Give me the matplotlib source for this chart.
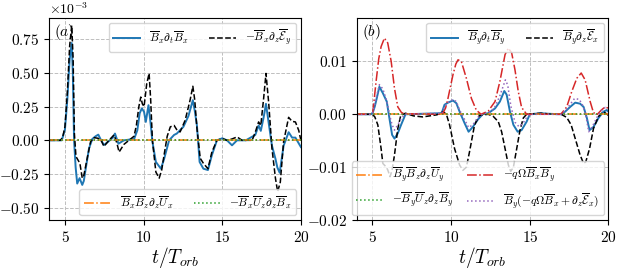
import matplotlib
matplotlib.use("Agg")
import matplotlib.pyplot as plt

plt.rcParams['font.family'] = 'serif'
plt.rcParams['font.serif'] = ['cmr10']
plt.rcParams['mathtext.fontset'] = 'cm'
plt.rcParams['axes.formatter.use_mathtext'] = True

# ---- panel (a), values in units of 1e-3 ----
ta_black = [4.0, 4.7, 4.85, 5.0, 5.15, 5.3, 5.43, 5.52, 5.6, 5.7, 5.85, 5.95, 6.1, 6.2,
            6.42, 6.63, 6.85, 7.1, 7.3, 7.48, 7.8, 8.12, 8.3, 8.44, 8.75, 9.07, 9.39,
            9.54, 9.7, 9.82, 9.92, 10.03, 10.2, 10.35, 10.45, 10.56, 10.78, 10.99,
            11.15, 11.3, 11.5, 11.7, 11.94, 12.1, 12.32, 12.64, 12.96, 13.13, 13.25,
            13.39, 13.6, 13.8, 14.09, 14.34, 14.66, 15.0, 15.3, 15.62, 15.94, 16.26,
            16.9, 17.1, 17.31, 17.45, 17.63, 17.78, 17.95, 18.16, 18.38, 18.52, 18.69,
            18.9, 19.22, 19.44, 19.65, 19.86, 20.0]
ya_black = [0, 0.0, 0.02, 0.1, 0.35, 0.7, 0.85, 0.6, 0.05, -0.12, -0.15, -0.17, -0.28,
            -0.26, -0.13, -0.01, 0.02, 0.015, 0.0, -0.045, 0.0, 0.04, -0.02, -0.087,
            -0.03, 0.0, 0.03, 0.11, 0.25, 0.32, 0.27, 0.25, 0.42, 0.495, 0.3, 0.0,
            -0.235, -0.28, -0.22, -0.11, 0.03, 0.10, 0.11, 0.08, 0.062, 0.148, 0.30,
            0.40, 0.3, 0.09, -0.133, -0.17, -0.21, -0.087, 0.0, 0.012, 0.0, 0.01,
            0.025, 0.0, 0.0, 0.06, 0.136, 0.11, 0.31, 0.495, 0.28, -0.06, -0.28,
            -0.38, -0.31, -0.01, 0.17, 0.14, 0.136, 0.074, 0.0]

ta_blue = [4.0, 4.8, 5.0, 5.15, 5.3, 5.43, 5.5, 5.58, 5.68, 5.78, 5.93, 6.1, 6.2, 6.32,
           6.53, 6.74, 6.95, 7.12, 7.3, 7.48, 7.85, 8.05, 8.18, 8.4, 8.75, 9.4, 9.6,
           9.75, 9.89, 10.03, 10.14, 10.31, 10.45, 10.56, 10.78, 11.1, 11.3, 11.62,
           11.94, 12.11, 12.53, 12.85, 13.13, 13.25, 13.39, 13.56, 13.8, 14.09, 14.34,
           14.66, 15.0, 15.3, 15.62, 15.94, 16.5, 17.1, 17.31, 17.45, 17.63, 17.78,
           17.95, 18.16, 18.38, 18.5, 18.65, 18.9, 19.22, 19.44, 19.65, 19.85, 20.0]
ya_blue = [0, 0.0, 0.08, 0.3, 0.6, 0.72, 0.5, 0.0, -0.2, -0.32, -0.28, -0.33, -0.3,
           -0.21, -0.06, 0.01, 0.03, 0.042, 0.0, -0.035, 0.0, 0.02, 0.05, -0.025, 0.0,
           0.01, 0.074, 0.2, 0.237, 0.21, 0.136, 0.26, 0.12, -0.01, -0.16, -0.21,
           -0.14, 0.0, 0.04, 0.05, 0.10, 0.18, 0.297, 0.22, 0.11, -0.16, -0.21, -0.22,
           -0.11, 0.0, 0.015, 0.0, -0.037, 0.0, 0.0, 0.04, 0.11, 0.07, 0.17, 0.27,
           0.13, -0.04, -0.136, -0.2, -0.24, -0.04, 0.06, 0.02, 0.02, -0.02, -0.05]

t_flat = [4.0, 8.0, 12.0, 16.0, 20.0]
y_flat = [0.0, 0.0, 0.0, 0.0, 0.0]

# ---- panel (b) ----
tb_red = [4, 4.9, 5.02, 5.23, 5.4, 5.55, 5.76, 5.97, 6.19, 6.4, 6.61, 6.85, 7.1, 9.3,
          9.48, 9.65, 9.8, 10.12, 10.3, 10.44, 10.65, 10.97, 11.29, 11.6, 11.9, 12.36,
          12.79, 13.1, 13.43, 13.64, 13.85, 14.06, 14.27, 14.48, 14.8, 16.9, 17.03,
          17.35, 17.67, 17.99, 18.27, 18.52, 18.84, 19.05, 19.3, 19.55, 19.75, 20]
yb_red = [0, 0, 0.0003, 0.0062, 0.0105, 0.0128, 0.0144, 0.0135, 0.0100, 0.0049,
          0.0014, 0.0003, 0.0001, 0.0, 0.0002, 0.0012, 0.003, 0.0075, 0.0095, 0.0103,
          0.0100, 0.0068, 0.003, 0.0008, 0.0, 0.0006, 0.0024, 0.0062, 0.0113, 0.0125,
          0.0116, 0.0084, 0.0043, 0.0013, 0.0, 0.0, 0.0002, 0.0014, 0.0043, 0.0068,
          0.0078, 0.0065, 0.0024, 0.0003, 0.0, 0.0008, 0.0013, 0.0012]

tb_black = [4, 5.0, 5.15, 5.34, 5.55, 5.66, 5.85, 5.97, 6.12, 6.25, 6.4, 6.61, 6.8, 7.1,
            7.6, 8.2, 9.1, 9.48, 9.7, 9.9, 10.22, 10.54, 10.75, 10.97, 11.17, 11.49,
            11.8, 12.36, 12.68, 13.0, 13.21, 13.43, 13.64, 13.79, 13.96, 14.17, 14.38,
            14.59, 14.8, 15.7, 16.45, 17.0, 17.35, 17.63, 17.89, 18.2, 18.42, 18.56,
            18.8, 19.05, 19.37, 19.69, 20]
yb_black = [0, 0, -0.0005, -0.002, -0.0065, -0.0093, -0.0099, -0.0105, -0.0118,
            -0.0105, -0.0077, -0.0027, -0.0002, 0.0002, -0.0003, -0.0005, -0.0001,
            0.0005, 0.0, -0.002, -0.0065, -0.0096, -0.0106, -0.0100, -0.0071, -0.002,
            -0.0002, 0.0, -0.0004, -0.0014, -0.0033, -0.0065, -0.0096, -0.0108,
            -0.0100, -0.0065, -0.003, -0.0007, 0.0, 0.0002, 0.0, 0.0, -0.0006, -0.002,
            -0.0046, -0.0077, -0.0093, -0.009, -0.0065, -0.0027, -0.0004, 0.0005,
            -0.0002]

tb_blue = [4, 4.9, 5.02, 5.15, 5.27, 5.44, 5.66, 5.91, 6.08, 6.25, 6.4, 6.61, 6.82, 7.1,
           9.4, 9.58, 9.8, 10.12, 10.33, 10.54, 10.86, 11.11, 11.38, 11.7, 12.0, 12.36,
           12.79, 13.1, 13.38, 13.53, 13.74, 13.96, 14.23, 14.48, 14.8, 15.0, 15.7,
           16.15, 17.0, 17.25, 17.57, 17.89, 18.2, 18.42, 18.63, 18.8, 19.05, 19.37,
           19.69, 19.9, 20]
yb_blue = [0, 0, 0.0003, 0.0015, 0.003, 0.0052, 0.004, 0.0024, -0.0008, -0.0039,
           -0.0046, -0.0036, -0.002, 0.0, 0.0002, 0.0018, 0.0022, 0.0026, 0.0021,
           0.0005, -0.0017, -0.0033, -0.0024, -0.001, 0.0, 0.0002, 0.0011, 0.0024,
           0.0044, 0.0037, 0.0005, -0.002, -0.0033, -0.003, -0.0014, 0.0, 0.0002,
           0.0001, 0.0, 0.0005, 0.0014, 0.0022, 0.002, 0.0014, -0.0007, -0.003,
           -0.0024, -0.0007, 0.0005, 0.0008, 0.0005]

tb_purple = [4, 4.9, 5.02, 5.27, 5.44, 5.66, 5.91, 6.1, 6.25, 6.4, 6.61, 6.82, 7.1, 9.4,
             9.6, 9.8, 10.12, 10.33, 10.54, 10.86, 11.11, 11.38, 11.7, 12.0, 12.5, 12.8,
             13.1, 13.45, 13.6, 13.8, 14.06, 14.3, 14.55, 14.8, 15.0, 17.0, 17.3, 17.6,
             17.85, 18.15, 18.4, 18.6, 18.75, 19.0, 19.3, 19.6, 19.8, 20]
yb_purple = [0, 0, 0.0003, 0.0035, 0.0056, 0.0048, 0.0025, -0.0003, -0.002, -0.003,
             -0.002, -0.0008, 0.0, 0.0002, 0.0015, 0.0022, 0.0028, 0.0024, 0.0008,
             -0.001, -0.0025, -0.002, -0.0006, 0.0, 0.0004, 0.0015, 0.0035, 0.0065,
             0.0055, 0.0015, -0.0015, -0.0023, -0.0018, -0.0006, 0.0, 0.0, 0.0008,
             0.002, 0.003, 0.0028, 0.0015, -0.0008, -0.0033, -0.0022, -0.0004, 0.0008,
             0.0013, 0.0012]

fig = plt.figure(figsize=(6.23, 2.69), dpi=100)
ax1 = fig.add_axes([0.079, 0.182, 0.404, 0.751])
ax2 = fig.add_axes([0.5726, 0.182, 0.404, 0.751])

legkw = dict(ncol=2, fontsize=8.3, borderaxespad=0.4, columnspacing=1.8,
             handlelength=2.3)

# panel (a)
s = 1e-3
l1, = ax1.plot(ta_blue, [v * s for v in ya_blue], color='C0', lw=1.4,
               label=r'$\overline{B}_x\partial_t\overline{B}_x$')
l2, = ax1.plot(ta_black, [v * s for v in ya_black], color='k', ls='--', lw=1.1,
               label=r'$-\overline{B}_x\partial_z\overline{\mathcal{E}}_y$')
l3, = ax1.plot(t_flat, y_flat, color='C1', ls='-.', lw=1.1,
               label=r'$\overline{B}_x\overline{B}_z\partial_z\overline{U}_x$')
l4, = ax1.plot(t_flat, y_flat, color='C2', ls=':', lw=1.1,
               label=r'$-\overline{B}_x\overline{U}_z\partial_z\overline{B}_x$')
ax1.set_xlim(4, 20)
ax1.set_ylim(-0.59e-3, 0.905e-3)
ax1.set_yticks([-0.5e-3, -0.25e-3, 0, 0.25e-3, 0.5e-3, 0.75e-3])
ax1.ticklabel_format(axis='y', style='sci', scilimits=(-3, -3))
leg_a1 = ax1.legend(handles=[l1, l2], loc='upper right', **legkw)
ax1.add_artist(leg_a1)
ax1.legend(handles=[l3, l4], loc='lower right', **legkw)
ax1.text(0.02, 0.93, r'$(a)$', transform=ax1.transAxes, fontsize=11, va='center')

# panel (b)
m1, = ax2.plot(tb_blue, yb_blue, color='C0', lw=1.4,
               label=r'$\overline{B}_y\partial_t\overline{B}_y$')
m2, = ax2.plot(tb_black, yb_black, color='k', ls='--', lw=1.1,
               label=r'$\overline{B}_y\partial_z\overline{\mathcal{E}}_x$')
m3, = ax2.plot(t_flat, y_flat, color='C1', ls='-.', lw=1.1,
               label=r'$\overline{B}_y\overline{B}_z\partial_z\overline{U}_y$')
m4, = ax2.plot(t_flat, y_flat, color='C2', ls=':', lw=1.1,
               label=r'$-\overline{B}_y\overline{U}_z\partial_z\overline{B}_y$')
m5, = ax2.plot(tb_red, yb_red, color='C3', ls='-.', lw=1.1,
               label=r'$-q\Omega\overline{B}_x\overline{B}_y$')
m6, = ax2.plot(tb_purple, yb_purple, color='C4', ls=':', lw=1.1,
               label=r'$\overline{B}_y(-q\Omega\overline{B}_x+\partial_z\overline{\mathcal{E}}_x)$')
ax2.set_xlim(4, 20)
ax2.set_ylim(-0.02, 0.0182)
ax2.set_yticks([-0.02, -0.01, 0.0, 0.01])
ax2.set_yticklabels(['$-0.02$', '$-0.01$', '$0.00$', '$0.01$'])
leg_b1 = ax2.legend(handles=[m1, m2], loc='upper right', **legkw)
ax2.add_artist(leg_b1)
legkw2 = dict(legkw, columnspacing=1.2)
ax2.legend(handles=[m3, m4, m5, m6], loc='lower right', **legkw2)
ax2.text(0.02, 0.93, r'$(b)$', transform=ax2.transAxes, fontsize=11, va='center')

for ax in (ax1, ax2):
    ax.set_xticks([5, 10, 15, 20])
    ax.grid(True, ls='--', color='0.75', lw=0.7)
    ax.tick_params(labelsize=11)
    ax.set_xlabel(r'$t/T_{orb}$', fontsize=14, labelpad=0)

fig.savefig('out.png', dpi=100)
